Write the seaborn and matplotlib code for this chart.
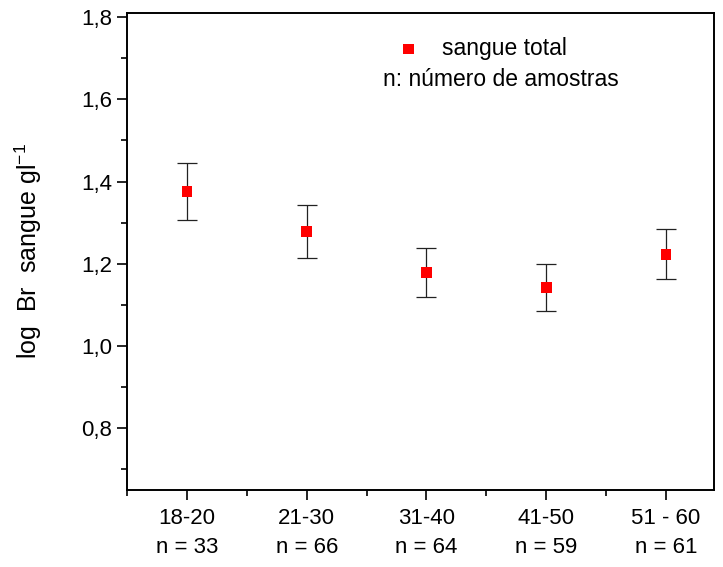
import matplotlib
matplotlib.use("Agg")
import matplotlib.pyplot as plt
from matplotlib.ticker import MultipleLocator, FixedLocator
import seaborn as sns
import pandas as pd

# Age groups, sample counts and blood bromide (log) means with their error
age_groups = ["18-20", "21-30", "31-40", "41-50", "51 - 60"]
n_samples = [33, 66, 64, 59, 61]
log_br = [1.376, 1.278, 1.179, 1.143, 1.223]
err = [0.069, 0.064, 0.059, 0.057, 0.061]

tick_labels = [f"{g}\nn = {n}" for g, n in zip(age_groups, n_samples)]
df = pd.DataFrame({"pos": range(len(age_groups)), "log_br": log_br, "err": err})

sns.set_theme(style="ticks", rc={"text.color": "black", "axes.labelcolor": "black",
                                 "xtick.color": "black", "ytick.color": "black",
                                 "axes.edgecolor": "black"})
plt.rcParams["font.family"] = ["Liberation Sans", "DejaVu Sans"]

fig = plt.figure(figsize=(7.23, 5.67), dpi=100)
ax = fig.add_axes([127 / 723, 1 - 490 / 567, (714 - 127) / 723, (490 - 13) / 567])

ax.errorbar(df["pos"], df["log_br"], yerr=df["err"], fmt="none",
            ecolor="#222222", elinewidth=0.9, capsize=7.5, capthick=0.9, zorder=2)
sns.scatterplot(data=df, x="pos", y="log_br", marker="s", s=60, color="#ff0000",
                edgecolor="none", linewidth=0, ax=ax, zorder=3, label="sangue total")

ax.set_xlim(-0.5, 4.4)
ax.set_ylim(0.65, 1.81)

ax.xaxis.set_major_locator(FixedLocator(list(range(len(age_groups)))))
ax.set_xticklabels(tick_labels, fontsize=16, linespacing=1.5)
ax.xaxis.set_minor_locator(FixedLocator([-0.5, 0.5, 1.5, 2.5, 3.5]))
ax.yaxis.set_major_locator(MultipleLocator(0.2))
ax.yaxis.set_minor_locator(MultipleLocator(0.1))
ax.yaxis.set_major_formatter(matplotlib.ticker.FuncFormatter(
    lambda v, p: f"{v:.1f}".replace(".", ",")))
ax.tick_params(axis="y", labelsize=16)
ax.tick_params(which="major", direction="out", length=7, width=1.2, color="black")
ax.tick_params(which="minor", direction="out", length=4, width=1.2, color="black")
ax.tick_params(top=False, right=False, which="both")
ax.tick_params(axis="x", pad=6)

for sp in ax.spines.values():
    sp.set_visible(True)
    sp.set_linewidth(1.4)
    sp.set_color("black")

ax.set_xlabel("")
ax.set_ylabel("log  Br  sangue gl$^{\\mathregular{-1}}$", fontsize=18, labelpad=27)

leg = ax.legend(loc="upper left", bbox_to_anchor=(397 / 723, 1 - 37 / 567),
                bbox_transform=fig.transFigure, frameon=False, fontsize=16.5,
                handlelength=1.0, handletextpad=0.95, borderpad=0, borderaxespad=0,
                markerscale=1.0)
fig.text(383 / 723, 1 - 80 / 567, "n: número de amostras", fontsize=16.5,
         ha="left", va="center")

fig.savefig("out.png", dpi=100)
